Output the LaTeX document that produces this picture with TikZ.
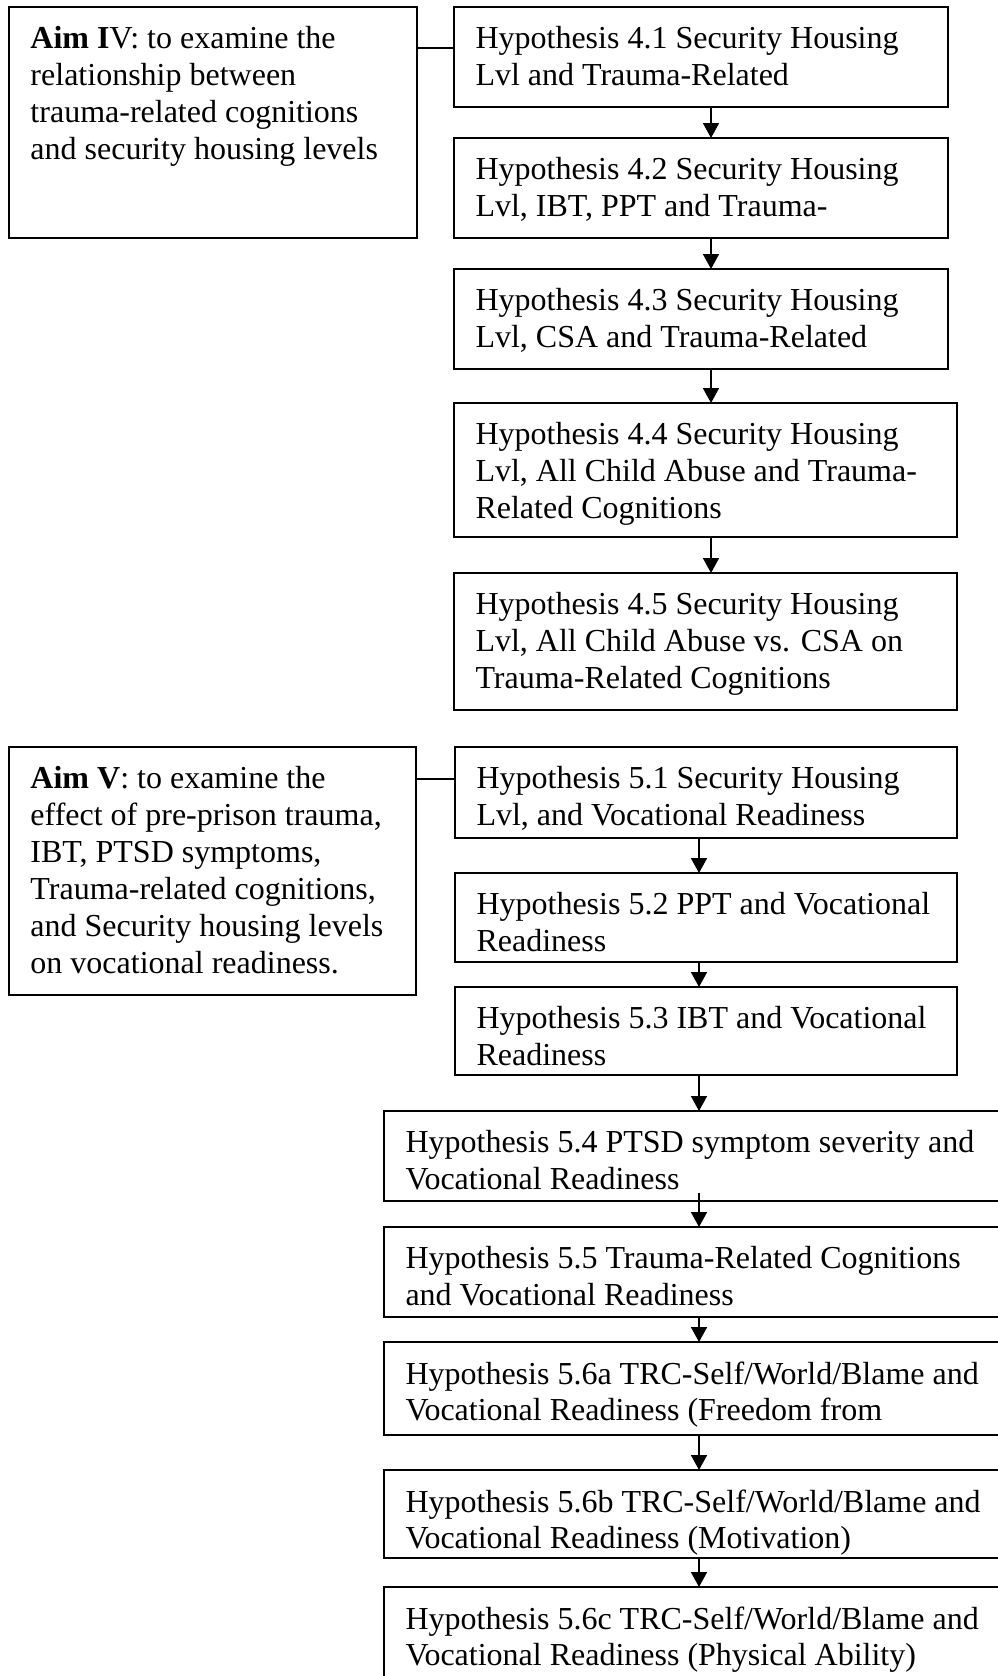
\documentclass[tikz,border=0pt]{standalone}
\usepackage{fontspec}
\setmainfont{Liberation Serif}
\usetikzlibrary{arrows.meta,fit}

\begin{document}
\begin{tikzpicture}[x=0.5pt, y=-0.5pt,
  box/.style={draw, line width=0.9pt, inner sep=0pt, outer sep=0pt},
  txt/.style={inner sep=0pt, outer sep=0pt, anchor=north west, align=left,
    font=\fontsize{16pt}{18.45pt}\selectfont, execute at begin node=\strut},
  link/.style={line width=0.9pt},
  arr/.style={line width=0.9pt, -{Triangle[width=8pt,length=7.5pt]}}]

% page
\path[fill=white, use as bounding box] (0,0) rectangle (997,1676);

% ---- Aim IV block ----
\node[box, fit={(9,7) (417,238)}]    (aim4) {};
\node[box, fit={(454,7) (948,107)}]  (h41) {};
\node[box, fit={(454,138) (948,238)}] (h42) {};
\node[box, fit={(454,269) (948,369)}] (h43) {};
\node[box, fit={(454,403) (957,537)}] (h44) {};
\node[box, fit={(454,573) (957,710)}] (h45) {};

% ---- Aim V block ----
\node[box, fit={(9,747) (416,995)}]    (aim5) {};
\node[box, fit={(455,747) (957,838)}]  (h51) {};
\node[box, fit={(455,873) (957,962)}]  (h52) {};
\node[box, fit={(455,987) (957,1075)}] (h53) {};
\node[box, fit={(384,1111) (999,1201)}] (h54) {};
\node[box, fit={(384,1227) (999,1317)}] (h55) {};
\node[box, fit={(384,1342) (999,1435)}] (h56a) {};
\node[box, fit={(384,1470) (999,1558)}] (h56b) {};
\node[box, fit={(384,1587) (999,1680)}] (h56c) {};

% ---- texts ----
\tikzset{inset/.style={shift={(21.5,19.5)}}}
\node[txt] (taim4) at ([inset]aim4.north west)
  {\textbf{Aim I}V: to examine the\\relationship between\\trauma-related cognitions\\and security housing levels};
\node[txt] (t41) at ([inset]h41.north west)
  {Hypothesis 4.1 Security Housing\\Lvl and Trauma-Related};
\node[txt] (t42) at ([inset]h42.north west)
  {Hypothesis 4.2 Security Housing\\Lvl, IBT, PPT and Trauma-};
\node[txt] (t43) at ([inset]h43.north west)
  {Hypothesis 4.3 Security Housing\\Lvl, CSA and Trauma-Related};
\node[txt] (t44) at ([inset]h44.north west)
  {Hypothesis 4.4 Security Housing\\Lvl, All Child Abuse and Trauma-\\Related Cognitions};
\node[txt] (t45) at ([inset]h45.north west)
  {Hypothesis 4.5 Security Housing\\Lvl, All Child Abuse vs. CSA on\\Trauma-Related Cognitions};

\node[txt] (taim5) at ([inset]aim5.north west)
  {\textbf{Aim V}: to examine the\\effect of pre-prison trauma,\\IBT, PTSD symptoms,\\Trauma-related cognitions,\\and Security housing levels\\on vocational readiness.};
\node[txt] (t51) at ([inset]h51.north west)
  {Hypothesis 5.1 Security Housing\\Lvl, and Vocational Readiness};
\node[txt] (t52) at ([inset]h52.north west)
  {Hypothesis 5.2 PPT and Vocational\\Readiness};
\node[txt] (t53) at ([inset]h53.north west)
  {Hypothesis 5.3 IBT and Vocational\\Readiness};
\node[txt] (t54) at ([inset]h54.north west)
  {Hypothesis 5.4 PTSD symptom severity and\\Vocational Readiness};
\node[txt] (t55) at ([inset]h55.north west)
  {Hypothesis 5.5 Trauma-Related Cognitions\\and Vocational Readiness};
\node[txt] (t56a) at ([inset]h56a.north west)
  {Hypothesis 5.6a TRC-Self/World/Blame and\\Vocational Readiness (Freedom from};
\begin{scope}
  % the text box cuts off the descenders of its last line
  \clip (h56b.north west) rectangle ([yshift=1.5pt]h56b.south east);
  \node[txt] (t56b) at ([inset]h56b.north west)
    {Hypothesis 5.6b TRC-Self/World/Blame and\\Vocational Readiness (Motivation)};
\end{scope}
\node[txt] (t56c) at ([inset]h56c.north west)
  {Hypothesis 5.6c TRC-Self/World/Blame and\\Vocational Readiness (Physical Ability)};

% ---- aim-to-hypothesis links ----
\coordinate (j4) at (436,48);
\coordinate (j5) at (436,779);
\draw[link] (j4 -| aim4.east) -- (j4 -| h41.west);
\draw[link] (j5 -| aim5.east) -- (j5 -| h51.west);

% ---- arrow columns ----
\coordinate (ax4) at (711,0);
\coordinate (ax5) at (699,0);
\draw[arr] (h41.south -| ax4) -- (h42.north -| ax4);
\draw[arr] (h42.south -| ax4) -- (h43.north -| ax4);
\draw[arr] (h43.south -| ax4) -- (h44.north -| ax4);
\draw[arr] (h44.south -| ax4) -- (h45.north -| ax4);

\draw[arr] (h51.south -| ax5) -- (h52.north -| ax5);
\draw[arr] (h52.south -| ax5) -- (h53.north -| ax5);
\draw[arr] (h53.south -| ax5) -- (h54.north -| ax5);
\draw[arr] ([yshift=4pt]h54.south -| ax5) -- (h55.north -| ax5);
\draw[arr] (h55.south -| ax5) -- (h56a.north -| ax5);
\draw[arr] (h56a.south -| ax5) -- (h56b.north -| ax5);
\draw[arr] (h56b.south -| ax5) -- (h56c.north -| ax5);
\end{tikzpicture}
\end{document}
